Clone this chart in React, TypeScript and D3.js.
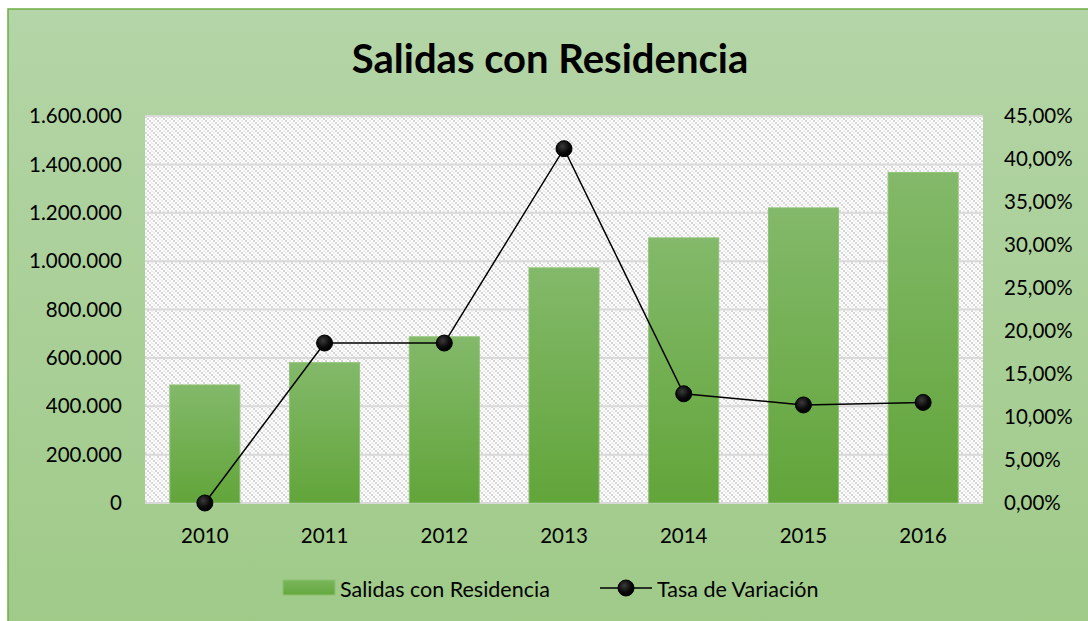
import React from "react";
import * as d3 from "d3";

const years = ["2010", "2011", "2012", "2013", "2014", "2015", "2016"];
const salidas = [488000, 580000, 687000, 972000, 1096000, 1220000, 1366000];
const tasa = [0.0, 0.186, 0.186, 0.412, 0.127, 0.114, 0.117];
const leftTicks = [0, 200000, 400000, 600000, 800000, 1000000, 1200000, 1400000, 1600000];
const rightTicks = [0, 0.05, 0.1, 0.15, 0.2, 0.25, 0.3, 0.35, 0.4, 0.45];

const W = 1088, H = 621;
const plot = { left: 145, right: 983, top: 116, bottom: 503 };
const FONT = "Lato, 'Open Sans', 'Liberation Sans', sans-serif";

const fmtThousands = (v: number) => d3.format(",")(v).replace(/,/g, ".");
const fmtPct = (v: number) => (v * 100).toFixed(2).replace(".", ",") + "%";

export default function App() {
  const x = d3.scaleBand().domain(years).range([plot.left, plot.right]).paddingInner(0.415).paddingOuter(0.2075);
  const yL = d3.scaleLinear().domain([0, 1600000]).range([plot.bottom, plot.top]);
  const yR = d3.scaleLinear().domain([0, 0.45]).range([plot.bottom, plot.top]);
  const line = d3.line<number>().x((_, i) => (x(years[i]) as number) + x.bandwidth() / 2).y((d) => yR(d));

  return (
    <svg width={W} height={H} style={{ position: "absolute", left: 0, top: 0, display: "block" }}>
      <defs>
        <linearGradient id="bg" x1="0" y1="0" x2="0" y2="1">
          <stop offset="0" stopColor="#b4d5a7" />
          <stop offset="1" stopColor="#9fca88" />
        </linearGradient>
        <linearGradient id="bar" x1="0" y1="0" x2="0" y2="1">
          <stop offset="0" stopColor="#83b96a" />
          <stop offset="1" stopColor="#62a53a" />
        </linearGradient>
        <linearGradient id="legbar" x1="0" y1="0" x2="0" y2="1">
          <stop offset="0" stopColor="#7ab55c" />
          <stop offset="1" stopColor="#64a83d" />
        </linearGradient>
        <radialGradient id="mk" cx="0.4" cy="0.35" r="0.7">
          <stop offset="0" stopColor="#3a3a3a" />
          <stop offset="0.6" stopColor="#0a0a0a" />
          <stop offset="1" stopColor="#000" />
        </radialGradient>
        <pattern id="hatch" width="8" height="8" patternUnits="userSpaceOnUse" x={plot.left} y={plot.top}>
          <rect width="8" height="8" fill="#ffffff" />
          <rect x="0" y="0" width="2" height="2" fill="#d6d6d6" />
          <rect x="2" y="2" width="2" height="2" fill="#d6d6d6" />
          <rect x="4" y="4" width="2" height="2" fill="#d6d6d6" />
          <rect x="6" y="6" width="2" height="2" fill="#d6d6d6" />
          <rect x="4" y="0" width="2" height="2" fill="#ececec" />
          <rect x="6" y="2" width="2" height="2" fill="#ececec" />
          <rect x="0" y="4" width="2" height="2" fill="#ececec" />
          <rect x="2" y="6" width="2" height="2" fill="#ececec" />
        </pattern>
      </defs>
      <rect x={8} y={9} width={W} height={H} fill="url(#bg)" stroke="#70ad47" strokeWidth={1.5} />
      <text x={550} y={73} textAnchor="middle" fontFamily={FONT} fontWeight="bold" fontSize={40} fill="#000">
        Salidas con Residencia
      </text>
      <rect x={plot.left} y={plot.top} width={plot.right - plot.left} height={plot.bottom - plot.top} fill="url(#hatch)" />
      {leftTicks.map((t) => (
        <line key={"g" + t} x1={plot.left} x2={plot.right} y1={yL(t)} y2={yL(t)} stroke="#d9d9d9" strokeWidth={2} />
      ))}
      {leftTicks.map((t) => (
        <text key={"l" + t} x={122} y={yL(t)} dy="0.35em" textAnchor="end" fontFamily={FONT} fontSize={20.5} fill="#000">
          {fmtThousands(t)}
        </text>
      ))}
      {rightTicks.map((t) => (
        <text key={"r" + t} x={1004} y={yR(t)} dy="0.35em" textAnchor="start" fontFamily={FONT} fontSize={20.5} fill="#000">
          {fmtPct(t)}
        </text>
      ))}
      {years.map((yr, i) => (
        <rect
          key={"b" + yr}
          x={x(yr)}
          y={yL(salidas[i])}
          width={x.bandwidth()}
          height={plot.bottom - yL(salidas[i])}
          fill="url(#bar)"
          stroke="#8cc270"
          strokeWidth={1}
        />
      ))}
      {years.map((yr) => (
        <text key={"x" + yr} x={(x(yr) as number) + x.bandwidth() / 2} y={543} textAnchor="middle" fontFamily={FONT} fontSize={20.5} fill="#000">
          {yr}
        </text>
      ))}
      <path d={line(tasa) as string} fill="none" stroke="#000" strokeWidth={1.5} />
      {tasa.map((v, i) => (
        <circle key={"m" + i} cx={(x(years[i]) as number) + x.bandwidth() / 2} cy={yR(v)} r={8} fill="url(#mk)" stroke="#000" strokeWidth={1} />
      ))}
      <rect x={283} y={580} width={52} height={15} fill="url(#legbar)" stroke="#8cc270" strokeWidth={1} />
      <text x={340} y={597} fontFamily={FONT} fontSize={21.5} fill="#000">Salidas con Residencia</text>
      <line x1={600} x2={652} y1={588} y2={588} stroke="#000" strokeWidth={1.5} />
      <circle cx={626} cy={588} r={8} fill="url(#mk)" stroke="#000" strokeWidth={1} />
      <text x={657} y={597} fontFamily={FONT} fontSize={21.5} fill="#000">Tasa de Variación</text>
    </svg>
  );
}
